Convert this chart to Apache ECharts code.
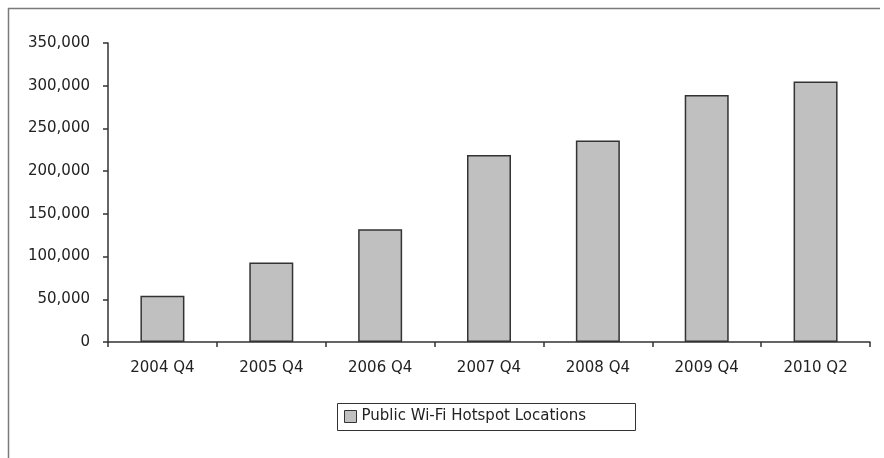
<!DOCTYPE html>
<html>
<head>
<meta charset="utf-8">
<script src="https://cdn.jsdelivr.net/npm/echarts@6/dist/echarts.min.js"></script>
<style>
  html, body { margin: 0; padding: 0; background: #ffffff; }
  #chart { width: 884px; height: 458px; }
</style>
</head>
<body>
<div id="chart"></div>
<script>
// Public Wi-Fi hotspot locations by period
const categories = ['2004 Q4', '2005 Q4', '2006 Q4', '2007 Q4', '2008 Q4', '2009 Q4', '2010 Q2'];
const hotspots = [54000, 93000, 132000, 219000, 236000, 289000, 305000];
const seriesName = 'Public Wi-Fi Hotspot Locations';
const yTicks = { min: 0, max: 350000, interval: 50000 };

const FONT = '"DejaVu Sans", sans-serif';
const chart = echarts.init(document.getElementById('chart'), null, { renderer: 'canvas' });

chart.setOption({
  animation: false,
  backgroundColor: '#ffffff',
  textStyle: { fontFamily: FONT },
  graphic: [
    {
      // outer frame (top and left edges)
      type: 'polyline',
      silent: true,
      shape: { points: [[8.5, 458], [8.5, 8.5], [880, 8.5]] },
      style: { stroke: '#7a7a7a', lineWidth: 1.5, fill: null }
    },
    {
      // legend box
      type: 'rect',
      silent: true,
      shape: { x: 337.5, y: 403.5, width: 298, height: 27 },
      style: { stroke: '#333333', lineWidth: 1, fill: null }
    }
  ],
  grid: { left: 108, right: 14, top: 43, bottom: 116, containLabel: false },
  legend: {
    data: [{ name: seriesName, icon: 'rect' }],
    left: 344,
    top: 409,
    itemWidth: 12,
    itemHeight: 12,
    itemGap: 6,
    padding: 0,
    itemStyle: { color: '#c0c0c0', borderColor: '#333333', borderWidth: 1 },
    textStyle: { fontFamily: FONT, fontSize: 15, color: '#222222' }
  },
  xAxis: {
    type: 'category',
    data: categories,
    axisLine: { lineStyle: { color: '#333333', width: 1.5 } },
    axisTick: { show: true, alignWithLabel: false, length: 5, lineStyle: { color: '#333333', width: 1.5 } },
    axisLabel: { margin: 19, fontSize: 15, color: '#222222', fontFamily: FONT },
    splitLine: { show: false }
  },
  yAxis: {
    type: 'value',
    min: yTicks.min,
    max: yTicks.max,
    interval: yTicks.interval,
    axisLine: { show: true, lineStyle: { color: '#333333', width: 1.5 } },
    axisTick: { show: true, length: 5, lineStyle: { color: '#333333', width: 1.5 } },
    axisLabel: {
      margin: 18,
      fontSize: 15,
      color: '#222222',
      fontFamily: FONT,
      formatter: v => v.toLocaleString('en-US')
    },
    splitLine: { show: false }
  },
  series: [{
    name: seriesName,
    type: 'bar',
    data: hotspots,
    barWidth: 44,
    itemStyle: { color: '#c0c0c0', borderColor: '#333333', borderWidth: 1.5 }
  }]
});
</script>
</body>
</html>
